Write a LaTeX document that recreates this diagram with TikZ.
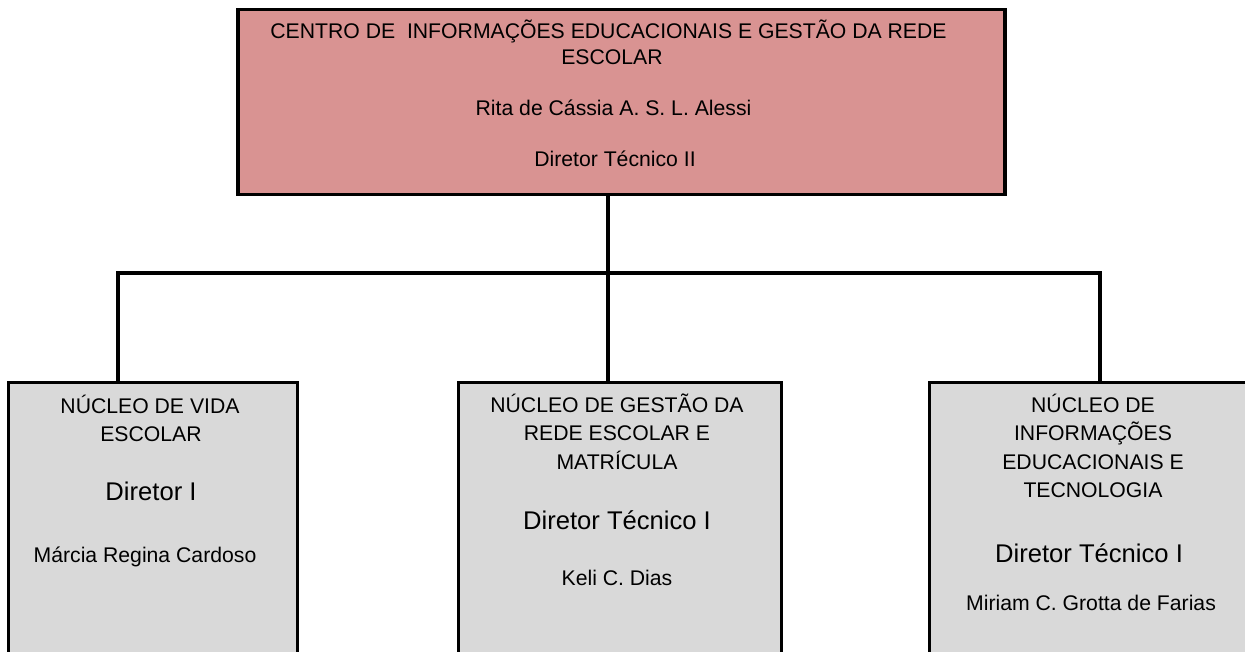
\documentclass[tikz,border=0pt]{standalone}
\usepackage{fontspec}
\setmainfont{Liberation Sans}
\definecolor{topfill}{RGB}{217,147,146}
\definecolor{boxfill}{RGB}{217,217,217}
\begin{document}
\begin{tikzpicture}[x=1pt,y=-1pt,
  topbox/.style={draw, line width=3.5pt, fill=topfill, anchor=north west, inner sep=0pt},
  unitbox/.style={draw, line width=3pt, fill=boxfill, anchor=north west, inner sep=0pt, minimum height=320pt},
  conn/.style={line width=3.5pt},
  txt/.style={anchor=base, inner sep=0pt, font=\fontsize{21.2}{25}\selectfont},
  bigtxt/.style={anchor=base, inner sep=0pt, font=\fontsize{25.6}{30}\selectfont}]
\useasboundingbox (0,0) rectangle (1245,652);
\clip (0,0) rectangle (1245,652);

% boxes
\node[topbox, minimum width=767pt, minimum height=185pt] (top) at (236,8) {};
\node[unitbox, minimum width=289pt] (n1) at (7,381) {};
\node[unitbox, minimum width=323pt] (n2) at (457,381) {};
\node[unitbox, minimum width=326pt] (n3) at (928,381) {};

% connectors
\coordinate (jm) at (608,273);
\coordinate (j1) at (118,273);
\coordinate (j3) at (1100,273);
\draw[conn] (top.south -| jm) -- (jm);
\draw[conn, line cap=rect] (j1) -- (j3);
\draw[conn] (j1) -- (j1 |- n1.north);
\draw[conn] (jm) -- (jm |- n2.north);
\draw[conn] (j3) -- (j3 |- n3.north);

% top box text
\node[txt] (t1) at (608.5,39) {CENTRO DE\ \ INFORMAÇÕES EDUCACIONAIS E GESTÃO DA REDE};
\node[txt] (t2) at (612,64.5) {ESCOLAR};
\node[txt] (t3) at (613.5,116) {Rita de Cássia A. S. L. Alessi};
\node[txt] (t4) at (615,167) {Diretor Técnico II};

% box 1 text
\node[txt] (a1) at (150,413) {NÚCLEO DE VIDA};
\node[txt] (a2) at (151,441) {ESCOLAR};
\node[bigtxt] (a3) at (151,500) {Diretor I};
\node[txt] (a4) at (145,562) {Márcia Regina Cardoso};

% box 2 text
\node[txt] (b1) at (617,412) {NÚCLEO DE GESTÃO DA};
\node[txt] (b2) at (617,440.5) {REDE ESCOLAR E};
\node[txt] (b3) at (617,469) {MATRÍCULA};
\node[bigtxt] (b4) at (617,529) {Diretor Técnico I};
\node[txt] (b5) at (617,585) {Keli C. Dias};

% box 3 text
\node[txt] (c1) at (1093,412) {NÚCLEO DE};
\node[txt] (c2) at (1093,440.5) {INFORMAÇÕES};
\node[txt] (c3) at (1093,469) {EDUCACIONAIS E};
\node[txt] (c4) at (1093,497.5) {TECNOLOGIA};
\node[bigtxt] (c5) at (1089,562) {Diretor Técnico I};
\node[txt] (c6) at (1091,610) {Miriam C. Grotta de Farias};
\end{tikzpicture}
\end{document}
